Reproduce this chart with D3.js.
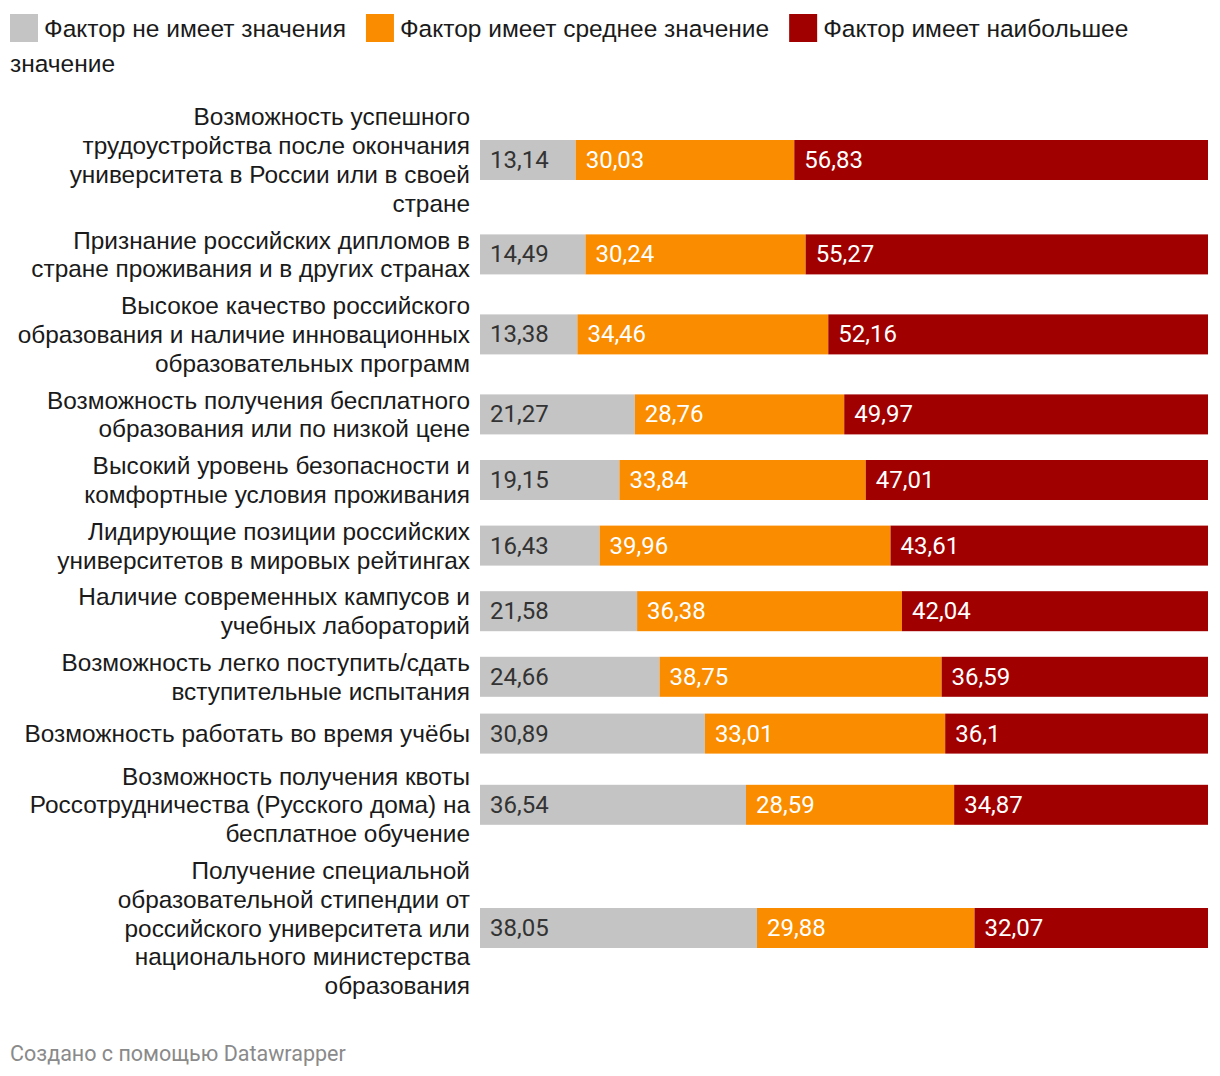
<!DOCTYPE html>
<html><head><meta charset="utf-8">
<script src="https://cdn.jsdelivr.net/npm/d3@7"></script>
<style>
body{margin:0;background:#fff;}
svg{display:block;}
.lab{font-family:'Liberation Sans', Arial, Helvetica, sans-serif;}
.val{font-family:Roboto, sans-serif;}
</style></head>
<body>
<svg id="chart" width="1220" height="1076"></svg>
<script>
const categories = [
  ["Возможность успешного","трудоустройства после окончания","университета в России или в своей","стране"],
  ["Признание российских дипломов в","стране проживания и в других странах"],
  ["Высокое качество российского","образования и наличие инновационных","образовательных программ"],
  ["Возможность получения бесплатного","образования или по низкой цене"],
  ["Высокий уровень безопасности и","комфортные условия проживания"],
  ["Лидирующие позиции российских","университетов в мировых рейтингах"],
  ["Наличие современных кампусов и","учебных лабораторий"],
  ["Возможность легко поступить/сдать","вступительные испытания"],
  ["Возможность работать во время учёбы"],
  ["Возможность получения квоты","Россотрудничества (Русского дома) на","бесплатное обучение"],
  ["Получение специальной","образовательной стипендии от","российского университета или","национального министерства","образования"]
];
const seriesNames = ["Фактор не имеет значения","Фактор имеет среднее значение","Фактор имеет наибольшее значение"];
const noValue   = [13.14,14.49,13.38,21.27,19.15,16.43,21.58,24.66,30.89,36.54,38.05];
const midValue  = [30.03,30.24,34.46,28.76,33.84,39.96,36.38,38.75,33.01,28.59,29.88];
const topValue  = [56.83,55.27,52.16,49.97,47.01,43.61,42.04,36.59,36.1,34.87,32.07];
const colors = ["#c4c4c4","#fa8c00","#a00000"];
const textColors = ["#333333","#ffffff","#ffffff"];

const svg = d3.select("#chart");
const fmt = v => String(v).replace(".", ",");

// Legend
const legSize = 24.5;
let lx = 10, ly = 28;
const legG = svg.append("g");
seriesNames.forEach((name, i) => {
  legG.append("rect").attr("x", lx).attr("y", ly - 14).attr("width", 28).attr("height", 28).attr("fill", colors[i]);
  lx += 34;
  const words = name.split(" ");
  words.forEach((w, j) => {
    const t = legG.append("text").attr("class", "lab").attr("font-size", legSize).attr("fill", "#1a1a1a")
      .attr("dominant-baseline", "central").attr("xml:space", "preserve").text((j > 0 ? " " : "") + w);
    let wlen = t.node().getComputedTextLength();
    if (lx + wlen > 1210) { lx = 10; ly += 35; t.text(w); wlen = t.node().getComputedTextLength(); }
    t.attr("x", lx).attr("y", ly);
    lx += wlen;
  });
  lx += 20;
});

// Layout rows
const lineH = 28.8, barH = 40, gap = 8;
let yCur = 102.4;
const centers = [];
categories.forEach(lines => {
  const h = Math.max(barH, lines.length * lineH);
  centers.push(yCur + h / 2);
  yCur += h + gap;
});

const x = d3.scaleLinear().domain([0, 100]).range([480, 1208]);

const rows = svg.append("g").selectAll("g").data(categories).join("g");

rows.each(function(lines, i) {
  const g = d3.select(this);
  const cy = centers[i];
  const t = g.append("text").attr("class", "lab").attr("font-size", 24.4).attr("fill", "#1a1a1a")
    .attr("text-anchor", "end");
  lines.forEach((ln, k) => {
    t.append("tspan").attr("x", 470).attr("y", cy + (k - (lines.length - 1) / 2) * lineH)
      .attr("dominant-baseline", "central").text(ln);
  });
  const vals = [noValue[i], midValue[i], topValue[i]];
  let acc = 0;
  vals.forEach((v, s) => {
    const x0 = x(acc), x1 = x(acc + v);
    g.append("rect").attr("x", x0).attr("y", cy - barH / 2).attr("width", x1 - x0).attr("height", barH).attr("fill", colors[s]);
    g.append("text").attr("class", "val").attr("x", x0 + 10).attr("y", cy).attr("dominant-baseline", "central")
      .attr("font-size", 24).attr("fill", textColors[s])
      .text(fmt(v));
    acc += v;
  });
});

svg.append("text").attr("class", "val").attr("x", 10).attr("y", 1053).attr("dominant-baseline", "central")
  .attr("font-size", 21.5).attr("fill", "#8a8a8a")
  .text("Создано с помощью Datawrapper");
</script>
</body></html>
